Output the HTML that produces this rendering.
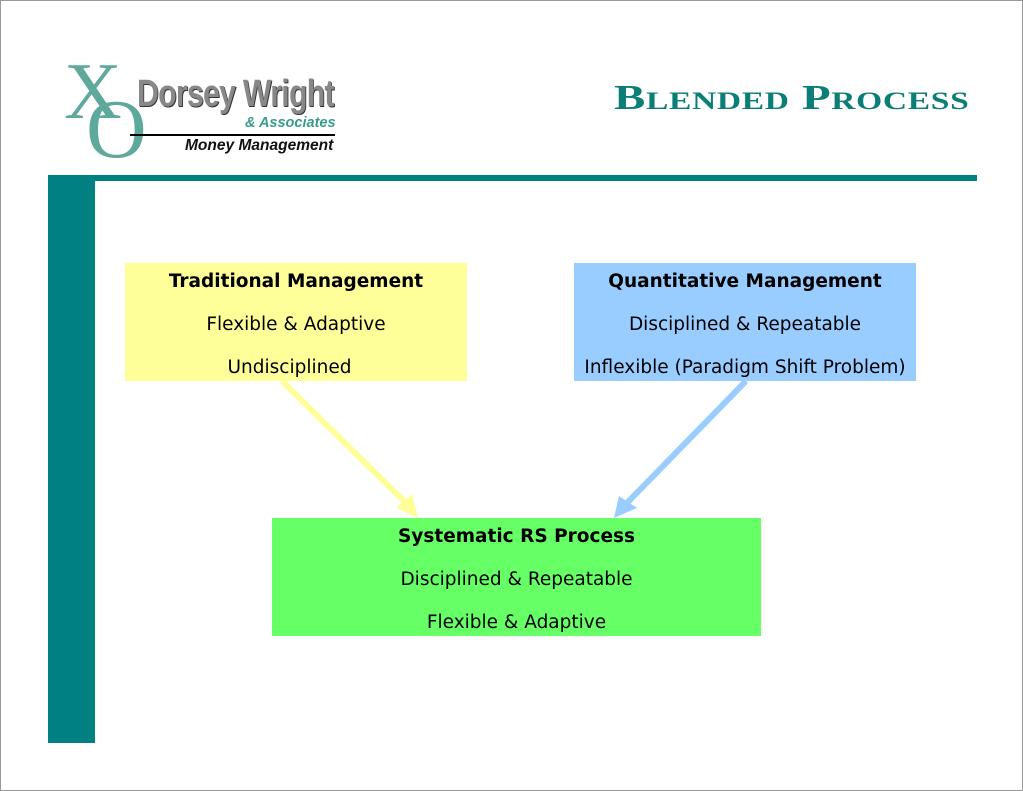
<!DOCTYPE html>
<html><head><style>
body{margin:0;width:1023px;height:791px;position:relative;background:#fff;overflow:hidden;font-family:"DejaVu Sans","Liberation Sans",sans-serif;}
.frame{position:absolute;left:0;top:0;width:1021px;height:789px;border:1px solid #999;}
.box{position:absolute;text-align:center;font-size:18.5px;color:#000;}
.box div{position:absolute;left:0;right:0;line-height:20px;white-space:nowrap;}
.b{font-weight:bold;}
</style></head><body>
<div class="frame"></div>
<!-- logo -->
<div style="position:absolute;left:64px;top:52px;font-family:'Liberation Serif',serif;font-size:80px;color:#5fa89c;line-height:80px;">X</div>
<div style="position:absolute;left:86px;top:88px;font-family:'Liberation Serif',serif;font-size:84px;color:#5fa89c;line-height:84px;">O</div>
<div style="position:absolute;left:137px;top:74px;font-family:'Liberation Sans',sans-serif;font-weight:bold;font-size:38px;color:#888;line-height:40px;letter-spacing:-1px;transform:scaleX(0.8);transform-origin:left;text-shadow:1px 1px 0 #333;">Dorsey Wright</div>
<div style="position:absolute;left:245px;top:115px;font-family:'Liberation Sans',sans-serif;font-weight:bold;font-style:italic;font-size:14.5px;color:#3a9c8c;">&amp; Associates</div>
<div style="position:absolute;left:130px;top:134px;width:205px;height:2px;background:#000;"></div>
<div style="position:absolute;left:185px;top:137px;font-family:'Liberation Sans',sans-serif;font-weight:bold;font-style:italic;font-size:16px;color:#111;transform:scaleX(0.97);transform-origin:left;">Money Management</div>
<!-- title -->
<div style="position:absolute;left:614px;top:78px;font-family:'Liberation Serif',serif;font-weight:bold;font-variant:small-caps;font-size:35px;color:#0b7f77;letter-spacing:0.5px;transform:scaleX(1.34);transform-origin:left;white-space:nowrap;">Blended Process</div>
<!-- teal bars -->
<div style="position:absolute;left:48px;top:175px;width:929px;height:6px;background:#008080;"></div>
<div style="position:absolute;left:48px;top:175px;width:47px;height:568px;background:#008080;"></div>
<!-- boxes -->
<div class="box" style="left:125px;top:263px;width:342px;height:118px;background:#ffff99;">
<div class="b" style="top:9px;">Traditional Management</div>
<div style="top:52px;">Flexible &amp; Adaptive</div>
<div style="top:95px;left:-13px;">Undisciplined</div>
</div>
<div class="box" style="left:574px;top:263px;width:342px;height:118px;background:#99ccff;">
<div class="b" style="top:9px;">Quantitative Management</div>
<div style="top:52px;">Disciplined &amp; Repeatable</div>
<div style="top:95px;">Inflexible (Paradigm Shift Problem)</div>
</div>
<div class="box" style="left:272px;top:518px;width:489px;height:118px;background:#66ff66;">
<div class="b" style="top:9px;">Systematic RS Process</div>
<div style="top:52px;">Disciplined &amp; Repeatable</div>
<div style="top:95px;">Flexible &amp; Adaptive</div>
</div>
<svg style="position:absolute;left:0;top:0" width="1023" height="791">
<line x1="282" y1="381" x2="408" y2="505" stroke="#ffff99" stroke-width="6"/>
<polygon points="418,518 396,508 412,494" fill="#ffff99"/>
<line x1="746" y1="381" x2="625" y2="505" stroke="#99ccff" stroke-width="6"/>
<polygon points="614,518 619,496 637,508" fill="#99ccff"/>
</svg>
</body></html>
